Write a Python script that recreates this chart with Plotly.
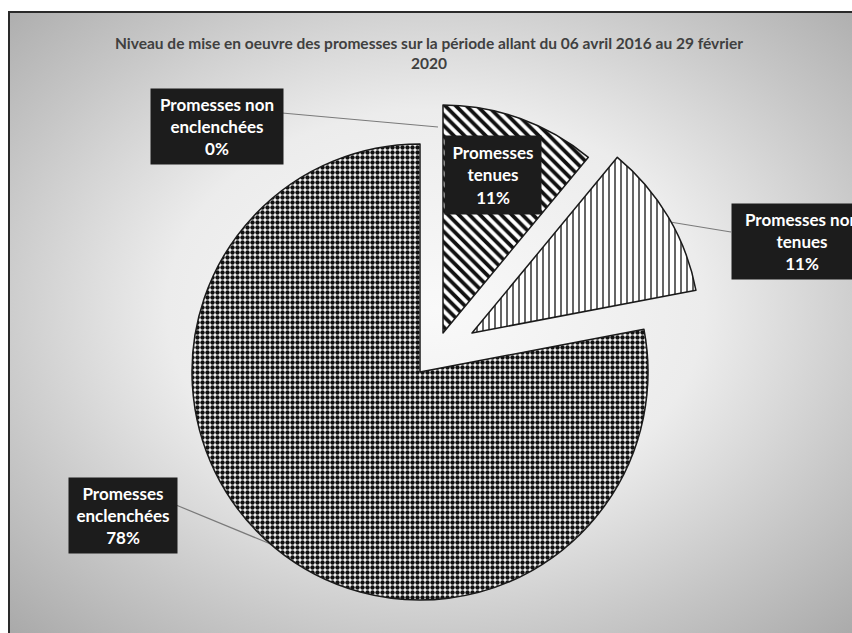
import base64
import plotly.graph_objects as go

# ---------------- data ----------------
labels = ["Promesses tenues", "Promesses non tenues",
          "Promesses non enclenchées", "Promesses enclenchées"]
values = [11, 11, 0, 78]
title_text = ("Niveau de mise en oeuvre des promesses sur la période allant du 06 avril 2016 au 29 février"
              "<br>2020")

# ---------------- styles / layout positions ----------------
W, H = 852, 633
R = 228  # pie radius (px)
# centre of each (exploded) slice, in pixels
slice_centres = [(443, 333), (472, 333), (420, 372), (420, 372)]
pattern_shapes = ["\\", "|", "", "."]
pattern_sizes = [7.5, 6, 6, 5]
pattern_solid = [0.5, 0.25, 0.3, 0.62]
pattern_fg = ["#111111", "#333333", "#222222", "#111111"]

# label boxes: left, top, width, height (px)
label_boxes = [(444, 135, 96, 78), (731, 203, 140, 75), (150, 88, 132, 75), (68, 477, 108, 75)]
# leader lines: (x0, y0, x1, y1) px, None if no leader
leaders = [None, (670, 222, 731, 232), (282, 113, 438, 127), (176, 505, 273, 545)]


def px(x):
    return x / W


def py(y):
    return 1 - y / H


fig = go.Figure()

for i, v in enumerate(values):
    if v <= 0:
        continue
    cx, cy = slice_centres[i]
    n = len(values)
    colors = ["white" if j == i else "rgba(0,0,0,0)" for j in range(n)]
    lcolors = ["#1a1a1a" if j == i else "rgba(0,0,0,0)" for j in range(n)]
    lwidths = [1.5 if j == i else 0 for j in range(n)]
    shapes_ = [pattern_shapes[j] if j == i else "" for j in range(n)]
    fig.add_trace(go.Pie(
        labels=labels,
        values=values,
        sort=False,
        direction="clockwise",
        rotation=0,
        textinfo="none",
        hoverinfo="skip",
        showlegend=False,
        domain=dict(x=[px(cx - R), px(cx + R)], y=[py(cy + R), py(cy - R)]),
        marker=dict(
            colors=colors,
            line=dict(color=lcolors, width=lwidths),
            pattern=dict(
                shape=shapes_,
                fgcolor=pattern_fg,
                bgcolor=["white" if j == i else "rgba(0,0,0,0)" for j in range(n)],
                size=pattern_sizes,
                solidity=pattern_solid,
                fillmode="replace",
            ),
        ),
    ))

# ---------------- labels ----------------
annotations = []
total = sum(values)
for i, lab in enumerate(labels):
    words = lab.split(" ")
    txt = " ".join(words[:-1]) + "<br>" + words[-1] + "<br>" + f"{round(values[i] / total * 100)}%"
    l, t, w, h = label_boxes[i]
    annotations.append(dict(
        text="<b>" + txt + "</b>",
        xref="paper", yref="paper",
        x=px(l), y=py(t), xanchor="left", yanchor="top",
        width=w - 8, height=h - 8, borderpad=4,
        bgcolor="#1c1c1c", align="center", valign="middle",
        font=dict(family="Lato, Open Sans, sans-serif", size=17, color="white"),
        showarrow=False,
    ))

annotations.append(dict(
    text="<b>" + title_text + "</b>",
    xref="paper", yref="paper", x=px(429), y=py(32), xanchor="center", yanchor="top",
    showarrow=False, align="center",
    font=dict(family="Lato, Open Sans, sans-serif", size=15.5, color="#404040"),
))

shapes = []
for ld in leaders:
    if ld is None:
        continue
    x0, y0, x1, y1 = ld
    shapes.append(dict(type="line", xref="paper", yref="paper",
                       x0=px(x0), y0=py(y0), x1=px(x1), y1=py(y1),
                       line=dict(color="#7a7a7a", width=1.2), layer="below"))

# frame
shapes.append(dict(type="rect", xref="paper", yref="paper",
                   x0=px(9), y0=-0.05, x1=1.05, y1=py(12),
                   line=dict(color="#2a2a2a", width=2), layer="below"))

# radial gradient background via svg image
svg = ("<svg xmlns='http://www.w3.org/2000/svg' width='860' height='640' preserveAspectRatio='none'>"
       "<defs><radialGradient id='g' cx='0.5' cy='0.47' r='0.75'>"
       "<stop offset='0' stop-color='#f9f9f9'/>"
       "<stop offset='0.42' stop-color='#ececec'/>"
       "<stop offset='0.72' stop-color='#c6c6c6'/>"
       "<stop offset='1' stop-color='#a4a4a4'/>"
       "</radialGradient></defs>"
       "<rect width='860' height='640' fill='url(#g)'/></svg>")
src = "data:image/svg+xml;base64," + base64.b64encode(svg.encode()).decode()

fig.update_layout(
    width=W, height=H,
    margin=dict(l=0, r=0, t=0, b=0),
    paper_bgcolor="white",
    plot_bgcolor="white",
    showlegend=False,
    annotations=annotations,
    shapes=shapes,
    images=[dict(source=src, xref="paper", yref="paper",
                 x=px(9), y=py(12), sizex=px(W + 10 - 9), sizey=(H + 10 - 12) / H,
                 xanchor="left", yanchor="top", sizing="stretch", layer="below")],
)

fig.write_html("out.html")
